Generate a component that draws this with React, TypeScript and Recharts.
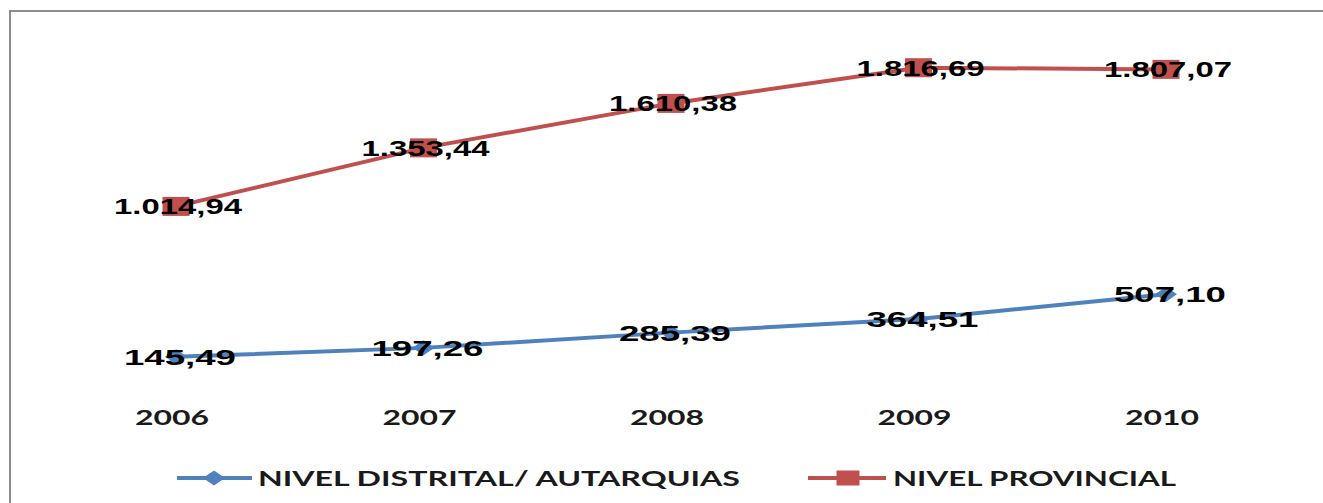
import React from 'react';
import { LineChart, Line, XAxis, YAxis, Legend, LabelList } from 'recharts';

const categories = ['2006', '2007', '2008', '2009', '2010'];
const distrital = [145.49, 197.26, 285.39, 364.51, 507.1];
const provincial = [1014.94, 1353.44, 1610.38, 1816.69, 1807.07];
const seriesNames = ['NIVEL DISTRITAL/ AUTARQUIAS', 'NIVEL PROVINCIAL'];
const yDomain = [0, 2000];

const BLUE = '#4F81BD';
const RED = '#C0504D';

const data = categories.map((c, i) => ({ year: c, distrital: distrital[i], provincial: provincial[i] }));

const fmt = (v: number) => {
  const [int, dec] = v.toFixed(2).split('.');
  const withSep = int.replace(/\B(?=(\d{3})+(?!\d))/g, '.');
  return `${withSep},${dec}`;
};

const makeLabel = (dx: number) => (props: any) => {
  const { x, y, value, index } = props;
  const s = fmt(Number(value));
  const len = s.length >= 8 ? 128 : 112;
  return (
    <text
      key={`lbl-${index}`}
      x={x + dx}
      y={y + 8}
      textAnchor="middle"
      textLength={len}
      lengthAdjust="spacingAndGlyphs"
      fontFamily="'Liberation Sans', Arial, sans-serif"
      fontWeight="bold"
      fontSize={22}
      fill="#000"
    >
      {s}
    </text>
  );
};

const SquareDot = (props: any) => {
  const { cx, cy, index } = props;
  return <rect key={`sq-${index}`} x={cx - 13.5} y={cy - 9.5} width={27} height={19} fill={RED} />;
};

const DiamondDot = (props: any) => {
  const { cx, cy, index } = props;
  return (
    <polygon
      key={`dm-${index}`}
      points={`${cx - 11},${cy} ${cx},${cy - 7.5} ${cx + 11},${cy} ${cx},${cy + 7.5}`}
      fill={BLUE}
    />
  );
};

const Tick = (props: any) => {
  const { x, y, payload } = props;
  return (
    <text
      x={x - 4}
      y={y + 43}
      textAnchor="middle"
      textLength={74}
      lengthAdjust="spacingAndGlyphs"
      fontFamily="Lato, 'Open Sans', sans-serif"
      fontWeight="bold"
      fontSize={20}
      fill="#1a1a1a"
    >
      {payload.value}
    </text>
  );
};

const LegendContent = () => (
  <svg width={1323} height={40} style={{ display: 'block' }}>
    <line x1={177} y1={15} x2={252} y2={15} stroke={BLUE} strokeWidth={4} />
    <polygon points="203,15 214,7.5 225,15 214,22.5" fill={BLUE} />
    <text
      x={258}
      y={22.5}
      textLength={482}
      lengthAdjust="spacingAndGlyphs"
      fontFamily="Lato, 'Open Sans', sans-serif"
      fontWeight="bold"
      fontSize={21}
      fill="#1a1a1a"
    >
      {seriesNames[0]}
    </text>
    <line x1={808} y1={15} x2={886} y2={15} stroke={RED} strokeWidth={4} />
    <rect x={836.5} y={7.5} width={23} height={15} fill={RED} />
    <text
      x={893}
      y={22.5}
      textLength={283}
      lengthAdjust="spacingAndGlyphs"
      fontFamily="Lato, 'Open Sans', sans-serif"
      fontWeight="bold"
      fontSize={21}
      fill="#1a1a1a"
    >
      {seriesNames[1]}
    </text>
  </svg>
);

export default function App() {
  return (
    <div
      style={{
        position: 'absolute',
        left: 0,
        top: 0,
        width: 1323,
        height: 503,
        overflow: 'hidden',
        background: '#fff',
      }}
    >
      <div
        style={{
          position: 'absolute',
          left: 9,
          top: 10,
          width: 1400,
          height: 600,
          border: '2px solid #8c8c8c',
          boxSizing: 'border-box',
        }}
      />
      <div style={{ position: 'absolute', left: 0, top: 0 }}>
        <LineChart width={1323} height={503} data={data} margin={{ top: 36, right: 33, left: 52, bottom: 0 }}>
          <XAxis
            dataKey="year"
            axisLine={false}
            tickLine={false}
            tickSize={0}
            tickMargin={0}
            height={81}
            padding={{ left: 124, right: 124 }}
            tick={<Tick />}
            interval={0}
          />
          <YAxis hide domain={yDomain} />
          <Legend
            verticalAlign="bottom"
            height={40}
            content={<LegendContent />}
            wrapperStyle={{ left: 0, width: 1323, bottom: 0 }}
          />
          <Line
            dataKey="distrital"
            name={seriesNames[0]}
            stroke={BLUE}
            strokeWidth={4}
            dot={<DiamondDot />}
            isAnimationActive={false}
          >
            <LabelList dataKey="distrital" content={makeLabel(4)} />
          </Line>
          <Line
            dataKey="provincial"
            name={seriesNames[1]}
            stroke={RED}
            strokeWidth={4}
            dot={<SquareDot />}
            isAnimationActive={false}
          >
            <LabelList dataKey="provincial" content={makeLabel(2)} />
          </Line>
        </LineChart>
      </div>
    </div>
  );
}
